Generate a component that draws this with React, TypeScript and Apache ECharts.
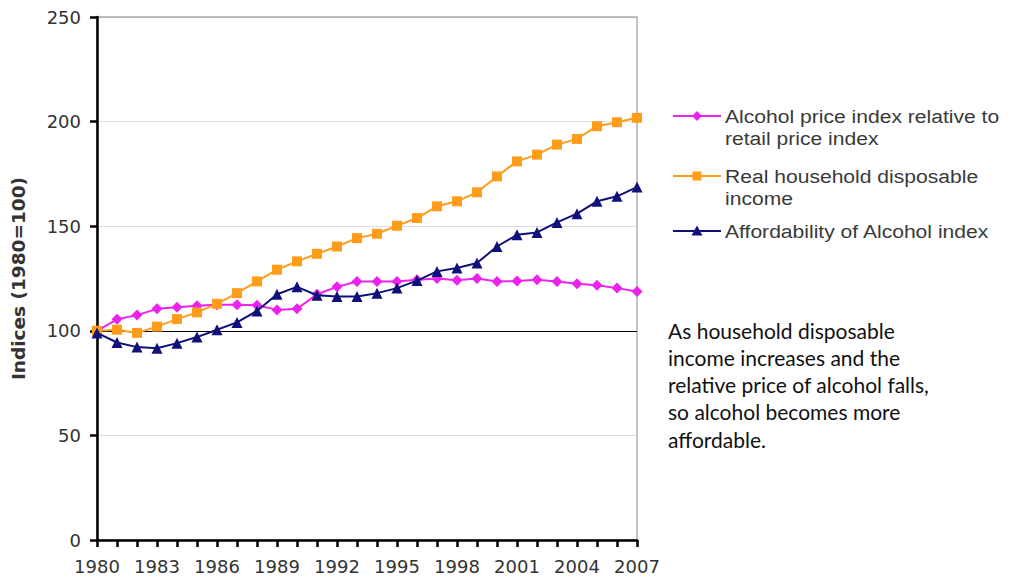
import React, { useEffect, useRef } from "react";
import * as echarts from "echarts";

const years = [
  "1980", "1981", "1982", "1983", "1984", "1985", "1986", "1987", "1988", "1989",
  "1990", "1991", "1992", "1993", "1994", "1995", "1996", "1997", "1998", "1999",
  "2000", "2001", "2002", "2003", "2004", "2005", "2006", "2007",
];

const alcoholPriceIndex = [
  100, 105.5, 107.5, 110.5, 111.3, 112, 112.4, 112.4, 112.2, 110,
  110.5, 117.5, 121, 123.6, 123.6, 123.6, 124.4, 125, 124.2, 125,
  123.6, 123.8, 124.4, 123.6, 122.5, 121.8, 120.4, 118.8,
];

const realDisposableIncome = [
  100, 100.5, 99, 102, 105.6, 108.8, 112.9, 118, 123.6, 129.2,
  133.2, 136.8, 140.3, 144.3, 146.4, 150.2, 153.9, 159.5, 161.9, 166.2,
  173.8, 181, 184.2, 189, 191.7, 197.8, 199.7, 201.8,
];

const affordabilityIndex = [
  99, 94.4, 92.2, 91.7, 94.1, 97, 100.5, 104, 109.5, 117.5,
  121, 117, 116.4, 116.4, 118, 120.4, 124, 128.4, 130, 132.4,
  140.3, 145.9, 147, 151.8, 156, 161.9, 164.3, 168.7,
];

const yTicks = [0, 50, 100, 150, 200, 250];

const seriesNames = [
  "Alcohol price index relative to retail price index",
  "Real household disposable income",
  "Affordability of Alcohol index",
];

const legendLines = [
  ["Alcohol price index relative to", "retail price index"],
  ["Real household disposable", "income"],
  ["Affordability of Alcohol index"],
];

const noteLines = [
  "As household disposable",
  "income increases and the",
  "relative price of alcohol falls,",
  "so alcohol becomes more",
  "affordable.",
];

const PINK = "#ee22ee";
const ORANGE = "#ff9d1a";
const NAVY = "#10107a";

const AXIS_FONT = "'DejaVu Sans', Arial, sans-serif";
const LEGEND_FONT = "'Liberation Sans', Arial, sans-serif";

function legendGraphics() {
  const rows = [116, 176, 231];
  const colors = [PINK, ORANGE, NAVY];
  const els: any[] = [];
  rows.forEach((y, i) => {
    els.push({
      type: "line",
      shape: { x1: 673, y1: y, x2: 721, y2: y },
      style: { stroke: colors[i], lineWidth: 2 },
    });
    if (i === 0) {
      els.push({
        type: "polygon",
        shape: { points: [[697, y - 5], [702, y], [697, y + 5], [692, y]] },
        style: { fill: colors[i] },
      });
    } else if (i === 1) {
      els.push({
        type: "rect",
        shape: { x: 692.5, y: y - 4.5, width: 9, height: 9 },
        style: { fill: colors[i] },
      });
    } else {
      els.push({
        type: "polygon",
        shape: { points: [[697, y - 5.5], [702.5, y + 4.5], [691.5, y + 4.5]] },
        style: { fill: colors[i] },
      });
    }
    legendLines[i].forEach((t, j) => {
      els.push({
        type: "text",
        x: 725,
        y: y + j * 22,
        scaleX: 1.11,
        style: {
          text: t,
          font: `19px ${LEGEND_FONT}`,
          fill: "#3a3a3a",
          textVerticalAlign: "middle",
        },
      });
    });
  });
  return els;
}

function noteGraphics() {
  return noteLines.map((t, i) => ({
    type: "text",
    x: 668,
    y: 330 + i * 27.3,
    style: {
      text: t,
      font: "21px Lato, 'Open Sans', sans-serif",
      fill: "#111",
      textVerticalAlign: "middle",
    },
  }));
}

export default function App() {
  const ref = useRef<HTMLDivElement>(null);

  useEffect(() => {
    if (!ref.current) return;
    const chart = echarts.init(ref.current, undefined, { renderer: "svg" });
    chart.setOption({
      animation: false,
      backgroundColor: "#ffffff",
      grid: {
        left: 97,
        right: 375,
        top: 17,
        bottom: 42,
        show: true,
        borderColor: "#b0b0b0",
        borderWidth: 1.5,
      },
      xAxis: {
        type: "category",
        data: years,
        boundaryGap: false,
        axisLine: { lineStyle: { color: "#000", width: 2.5 } },
        axisTick: { show: true, interval: 0, length: 7, lineStyle: { color: "#000", width: 2.5 } },
        axisLabel: {
          interval: 2,
          color: "#333",
          fontSize: 18,
          fontFamily: AXIS_FONT,
          margin: 17,
        },
        splitLine: { show: false },
      },
      yAxis: {
        type: "value",
        min: yTicks[0],
        max: yTicks[yTicks.length - 1],
        interval: 50,
        name: "Indices (1980=100)",
        nameLocation: "middle",
        nameGap: 69,
        nameTextStyle: {
          fontSize: 18.5,
          fontWeight: "bold",
          color: "#333",
          fontFamily: AXIS_FONT,
        },
        axisLine: { show: true, lineStyle: { color: "#000", width: 2.5 } },
        axisTick: { show: true, length: 7, lineStyle: { color: "#000", width: 2.5 } },
        axisLabel: { color: "#333", fontSize: 18, fontFamily: AXIS_FONT, margin: 16 },
        splitLine: {
          show: true,
          lineStyle: {
            color: ["#ddd", "#ddd", "#000", "#ddd", "#ddd", "#b0b0b0"],
            width: 1,
          },
        },
      },
      series: [
        {
          name: seriesNames[0],
          type: "line",
          data: alcoholPriceIndex,
          symbol: "diamond",
          symbolSize: 11,
          z: 2,
          lineStyle: { color: PINK, width: 2 },
          itemStyle: { color: PINK },
        },
        {
          name: seriesNames[1],
          type: "line",
          data: realDisposableIncome,
          symbol: "rect",
          symbolSize: 10,
          z: 3,
          lineStyle: { color: ORANGE, width: 2 },
          itemStyle: { color: ORANGE },
        },
        {
          name: seriesNames[2],
          type: "line",
          data: affordabilityIndex,
          symbol: "triangle",
          symbolSize: 11,
          z: 4,
          lineStyle: { color: NAVY, width: 2 },
          itemStyle: { color: NAVY },
        },
      ],
      graphic: [...legendGraphics(), ...noteGraphics()],
    });
    return () => chart.dispose();
  }, []);

  return <div ref={ref} style={{ width: 1012, height: 582, margin: -8 }} />;
}
